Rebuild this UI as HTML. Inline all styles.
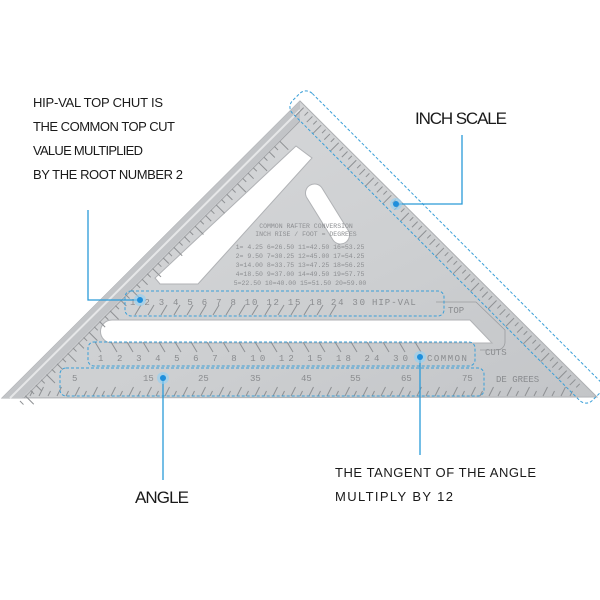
<!DOCTYPE html>
<html><head><meta charset="utf-8"><style>
html,body{margin:0;padding:0;background:#fff;width:600px;height:600px;overflow:hidden}
svg{display:block}
.lbl{font-family:"Liberation Sans",sans-serif;fill:#1a1a1a}
.sc{font-family:"Liberation Mono",monospace;fill:#8a8c8f;font-size:9px}
.tb{font-family:"Liberation Mono",monospace;fill:#8d8f92;font-size:6.5px}
</style></head><body>
<svg id="s" width="600" height="600" viewBox="0 0 600 600" xmlns="http://www.w3.org/2000/svg">
<defs>
<linearGradient id="al" x1="0" y1="0" x2="1" y2="1">
<stop offset="0" stop-color="#d9dadc"/><stop offset="0.6" stop-color="#cdcfd1"/><stop offset="1" stop-color="#c3c5c8"/>
</linearGradient>
</defs>
<polygon points="300,101 597,397 2,398" fill="url(#al)" stroke="#aeb0b3" stroke-width="1"/>
<polygon points="300,101 2,398 22,398 300,120" fill="#c2c4c7"/>
<line x1="300" y1="110" x2="10" y2="398" stroke="#e6e7e8" stroke-width="2"/>
<line x1="300" y1="121" x2="24" y2="398" stroke="#a3a5a8" stroke-width="1"/>
<polygon points="296,146 312,158 198,284 160,284 155,278" fill="#fff" stroke="#b0b2b5"/>
<path d="M112,320 L470,320 L492,343 L112,343 A11.5,11.5 0 0 1 112,320 Z" fill="#fff" stroke="#b0b2b5"/>
<path d="M322,188 L348,230 A9,9 0 0 1 333,240 L307,198 A9,9 0 0 1 322,188 Z" fill="#fff" stroke="#b0b2b5"/>
<g id="ticks" stroke="#8e9093" stroke-width="1"></g>
<text class="tb" x="306" y="228" text-anchor="middle">COMMON RAFTER CONVERSION</text>
<text class="tb" x="306" y="236" text-anchor="middle">INCH RISE / FOOT = DEGREES</text>
<text class="tb" x="300" y="249" text-anchor="middle">1= 4.25  6=26.50 11=42.50 16=53.25</text>
<text class="tb" x="300" y="258" text-anchor="middle">2= 9.50  7=30.25 12=45.00 17=54.25</text>
<text class="tb" x="300" y="267" text-anchor="middle">3=14.00  8=33.75 13=47.25 18=56.25</text>
<text class="tb" x="300" y="276" text-anchor="middle">4=18.50  9=37.00 14=49.50 19=57.75</text>
<text class="tb" x="300" y="285" text-anchor="middle">5=22.50 10=40.00 15=51.50 20=59.00</text>
<text class="sc" x="130" y="305" textLength="235">1 2 3 4 5 6 7 8 10 12 15 18 24 30</text>
<text class="sc" x="372" y="305" letter-spacing="1">HIP-VAL</text>
<text class="sc" x="448" y="313">TOP</text>
<text class="sc" x="98" y="361" textLength="310">1 2 3 4 5 6 7 8 10 12 15 18 24 30</text>
<text class="sc" x="427" y="361" letter-spacing="1.5">COMMON</text>
<text class="sc" x="485" y="355">CUTS</text>
<text class="sc" x="72" y="381">5</text><text class="sc" x="143" y="381">15</text><text class="sc" x="198" y="381">25</text>
<text class="sc" x="250" y="381">35</text><text class="sc" x="301" y="381">45</text><text class="sc" x="350" y="381">55</text>
<text class="sc" x="401" y="381">65</text><text class="sc" x="462" y="381">75</text>
<text class="sc" x="496" y="382">DE GREES</text>
<path d="M436,302 L476,302 L505,330 L505,342 A8,8 0 0 1 497,350 L480,350" fill="none" stroke="#9a9c9f" stroke-width="0.8"/>
<g fill="none" stroke="#3a9fd8" stroke-width="1" stroke-dasharray="3,2">
<rect x="125" y="291" width="319" height="25" rx="6"/>
<rect x="88" y="342" width="387" height="24" rx="6"/>
<rect x="60" y="368" width="424" height="28" rx="6"/>
<rect x="-212" y="-14" width="424" height="28" rx="9" transform="translate(446,247) rotate(45)"/>
</g>
<g stroke="#2a9ad8" stroke-width="1.3" fill="none">
<polyline points="88,210 88,300 140,300"/>
<polyline points="462,135 462,204 397,204"/>
<line x1="163" y1="379" x2="163" y2="480"/>
<line x1="420" y1="358" x2="420" y2="455"/>
</g>
<g fill="#1e8fdc">
<circle cx="140" cy="300" r="6" fill="#8fd0f5" opacity="0.6"/><circle cx="140" cy="300" r="3"/>
<circle cx="396" cy="204" r="6" fill="#8fd0f5" opacity="0.6"/><circle cx="396" cy="204" r="3"/>
<circle cx="163" cy="378" r="6" fill="#8fd0f5" opacity="0.6"/><circle cx="163" cy="378" r="3"/>
<circle cx="420" cy="357" r="6" fill="#8fd0f5" opacity="0.6"/><circle cx="420" cy="357" r="3"/>
</g>
<text class="lbl" x="33" y="107" font-size="13" textLength="130">HIP-VAL TOP CHUT IS</text>
<text class="lbl" x="33" y="131" font-size="13" textLength="142">THE COMMON TOP CUT</text>
<text class="lbl" x="33" y="155" font-size="13" textLength="110">VALUE MULTIPLIED</text>
<text class="lbl" x="33" y="179" font-size="13" textLength="150">BY THE ROOT NUMBER 2</text>
<text class="lbl" x="415" y="124" font-size="17" textLength="92">INCH SCALE</text>
<text class="lbl" x="135" y="503" font-size="17" textLength="54">ANGLE</text>
<text class="lbl" x="335" y="477" font-size="13" textLength="201">THE TANGENT OF THE ANGLE</text>
<text class="lbl" x="335" y="501" font-size="13" textLength="118">MULTIPLY BY 12</text>
</svg>
<script>
var g=document.getElementById('ticks'),ns='http://www.w3.org/2000/svg';
function L(a,b,c,d){var l=document.createElementNS(ns,'line');l.setAttribute('x1',a);l.setAttribute('y1',b);l.setAttribute('x2',c);l.setAttribute('y2',d);g.appendChild(l);}
for(var i=0;i<64;i++){var t=8+i*6.2,x=300+t*0.707,y=101+t*0.707,len=(i%4==0)?12:(i%2==0?8:5);L(x-2,y+1,x-2-len*0.707,y+1+len*0.707);}
for(var i=0;i<50;i++){var t=30+i*7.5,x=300-t*0.707,y=120+t*0.707,len=(i%4==0)?12:(i%2==0?8:5);L(x+1,y,x+1+len*0.707,y+len*0.707);}
for(var x=30;x<575;x+=9){var len=(Math.round(x/9)%2==0)?9:5;L(x,396,x+len*0.5,396-len);}
for(var x=135;x<340;x+=13){L(x,315,x+6,305);}
for(var x=95;x<420;x+=16){L(x,342,x+6,352);}
</script>
</body></html>
